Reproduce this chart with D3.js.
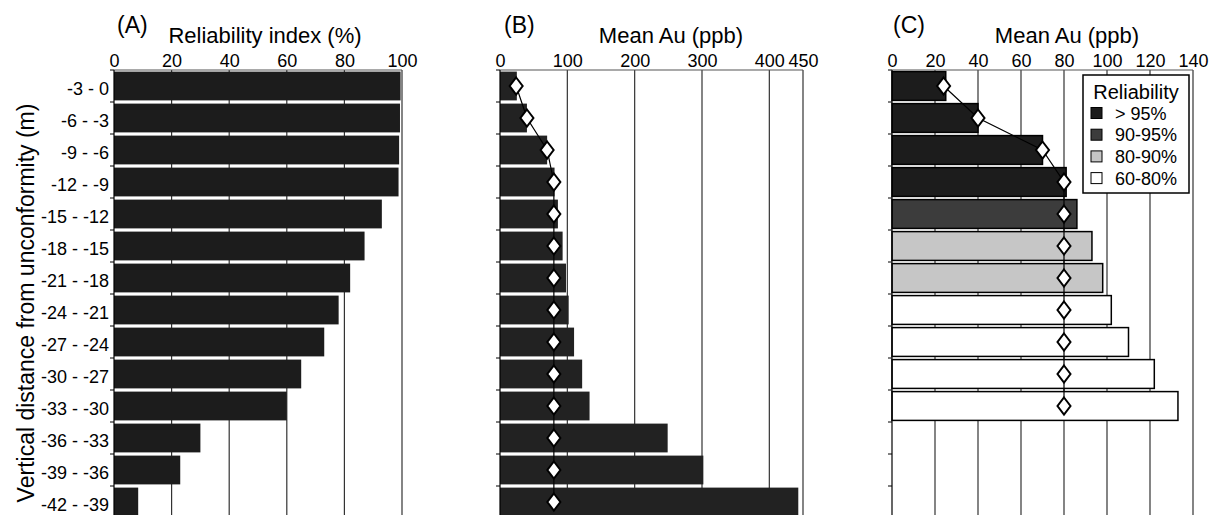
<!DOCTYPE html>
<html>
<head>
<meta charset="utf-8">
<script src="https://cdn.jsdelivr.net/npm/d3@7"></script>
<style>
  body { margin: 0; background: #fff; }
  svg text { font-family: "Liberation Sans", Arial, sans-serif; fill: #000; }
  .axis path { display: none; }
</style>
</head>
<body>
<div id="chart"><svg></svg></div>
<script>
// depth intervals (m) from the unconformity
var depths = ["-3 - 0", "-6 - -3", "-9 - -6", "-12 - -9", "-15 - -12", "-18 - -15", "-21 - -18",
  "-24 - -21", "-27 - -24", "-30 - -27", "-33 - -30", "-36 - -33", "-39 - -36", "-42 - -39"];
var reliability = [99.5, 99.3, 99, 98.8, 93, 87, 82, 78, 73, 65, 60, 30, 23, 8.4];
var meanAu = [25, 40, 70, 81, 86, 93, 98, 102, 110, 122, 133, 249, 302, 443];
var markerAu = [24, 40, 70, 80, 80, 80, 80, 80, 80, 80, 80, 80, 80, 80];

var ticksA = [0, 20, 40, 60, 80, 100];
var ticksB = [0, 100, 200, 300, 400, 450];
var ticksC = [0, 20, 40, 60, 80, 100, 120, 140];

var classes = ["> 95%", "90-95%", "80-90%", "60-80%"];
var classFill = ["#1c1c1c", "#3c3c3c", "#c6c6c6", "#ffffff"];

var classOf = function(r) {
  if (r > 95) return 0;
  if (r > 90) return 1;
  if (r > 80) return 2;
  return 3;
};

var W = 1214, H = 515;
var yTop = 70, yBottom = 70 + depths.length * 32;

var svg = d3.select("#chart svg").
  attr("width", W).
  attr("height", H).
  style("display", "block");

var y = d3.scaleBand().
  domain(depths).
  range([yTop, yBottom]).
  paddingInner(0.1).
  paddingOuter(0.05);

var rows = depths.map(function(d, i) {
  return { depth: d, rel: reliability[i], au: meanAu[i], mark: markerAu[i] };
});

var panel = function(opts) {
  var x = d3.scaleLinear().domain([0, opts.max]).range([opts.x0, opts.x1]);
  var g = svg.append("g");

  // vertical grid
  g.selectAll(".grid").
    data(opts.ticks.slice(1)).
    enter().append("line").
    attr("x1", function(d) { return x(d); }).
    attr("x2", function(d) { return x(d); }).
    attr("y1", yTop).
    attr("y2", H).
    attr("stroke", "#333").
    attr("stroke-width", 1.2);

  g.selectAll(".bar").
    data(opts.data).
    enter().append("rect").
    attr("x", x(0)).
    attr("y", function(d) { return y(d.depth); }).
    attr("width", function(d) { return x(opts.value(d)) - x(0); }).
    attr("height", y.bandwidth()).
    attr("fill", opts.fill).
    attr("stroke", opts.stroke ? "#000" : "none").
    attr("stroke-width", 1.5);

  // top axis
  g.append("line").
    attr("x1", x(0)).attr("x2", x(opts.max)).
    attr("y1", yTop).attr("y2", yTop).
    attr("stroke", "#555").attr("stroke-width", 1.2);

  g.append("g").
    attr("class", "axis").
    attr("transform", "translate(0," + yTop + ")").
    call(d3.axisTop(x).tickValues(opts.ticks).tickSize(0).tickPadding(3)).
    selectAll("text").
    style("font-size", "18px").
    style("font-family", "'Liberation Sans', Arial, sans-serif");

  // left axis with ticks at row boundaries
  g.append("line").
    attr("x1", x(0)).attr("x2", x(0)).
    attr("y1", yTop).attr("y2", H).
    attr("stroke", "#000").attr("stroke-width", 1.2);

  g.selectAll(".ytick").
    data(d3.range(depths.length + 1)).
    enter().append("line").
    attr("x1", x(0) - 4).attr("x2", x(0)).
    attr("y1", function(i) { return yTop + i * 32; }).
    attr("y2", function(i) { return yTop + i * 32; }).
    attr("stroke", "#000");

  if (opts.markers) {
    var line = d3.line().
      x(function(d) { return x(d.mark); }).
      y(function(d) { return y(d.depth) + y.bandwidth() / 2; });

    g.append("path").
      datum(opts.data).
      attr("d", line).
      attr("fill", "none").
      attr("stroke", "#000").
      attr("stroke-width", 1.2);

    g.selectAll(".mark").
      data(opts.data).
      enter().append("path").
      attr("transform", function(d) {
        return "translate(" + x(d.mark) + "," + (y(d.depth) + y.bandwidth() / 2) + ")";
      }).
      attr("d", "M0,-8.5L6.5,0L0,8.5L-6.5,0Z").
      attr("fill", "#fff").
      attr("stroke", "#000").
      attr("stroke-width", 2);
  }

  svg.append("text").
    attr("x", opts.labelX).
    attr("y", 33).
    style("font-size", "23px").
    text(opts.label);

  svg.append("text").
    attr("x", opts.titleX).
    attr("y", 43).
    attr("text-anchor", "middle").
    style("font-size", "22px").
    text(opts.title);

  return x;
};

// (A) reliability index
panel({
  x0: 114, x1: 402, max: 100, ticks: ticksA,
  data: rows, value: function(d) { return d.rel; },
  fill: "#1c1c1c", label: "(A)", labelX: 117, title: "Reliability index (%)", titleX: 265
});

svg.append("g").
  attr("class", "axis").
  attr("transform", "translate(114,0)").
  call(d3.axisLeft(y).tickSize(0).tickPadding(5)).
  selectAll("text").
  attr("dy", "0.5em").
  style("font-size", "18px").
  style("font-family", "'Liberation Sans', Arial, sans-serif");

svg.append("text").
  attr("transform", "translate(34,303) rotate(-90)").
  attr("text-anchor", "middle").
  style("font-size", "23px").
  text("Vertical distance from unconformity (m)");

// (B) mean Au, all intervals
panel({
  x0: 500, x1: 803, max: 450, ticks: ticksB,
  data: rows, value: function(d) { return d.au; },
  fill: "#222", markers: true,
  label: "(B)", labelX: 504, title: "Mean Au (ppb)", titleX: 671
});

// (C) mean Au, intervals with reliability >= 60%
var reliable = rows.filter(function(d) { return d.rel >= 60; });
panel({
  x0: 892, x1: 1193, max: 140, ticks: ticksC,
  data: reliable, value: function(d) { return d.au; },
  fill: function(d) { return classFill[classOf(d.rel)]; }, stroke: true, markers: true,
  label: "(C)", labelX: 893, title: "Mean Au (ppb)", titleX: 1067
});

// legend
var lg = svg.append("g").attr("transform", "translate(1083,75)");
lg.append("rect").
  attr("width", 106).attr("height", 118).
  attr("fill", "#fff").attr("stroke", "#000").attr("stroke-width", 1.5);
lg.append("text").
  attr("x", 53).attr("y", 24).
  attr("text-anchor", "middle").
  style("font-size", "20px").
  text("Reliability");
var items = lg.selectAll(".item").
  data(classes).
  enter().append("g").
  attr("transform", function(d, i) { return "translate(8," + (32.5 + i * 21.7) + ")"; });
items.append("rect").
  attr("width", 11).attr("height", 11).
  attr("fill", function(d, i) { return classFill[i]; }).
  attr("stroke", "#000");
items.append("text").
  attr("x", 24).attr("y", 12).
  style("font-size", "18px").
  text(function(d) { return d; });
</script>
</body>
</html>
